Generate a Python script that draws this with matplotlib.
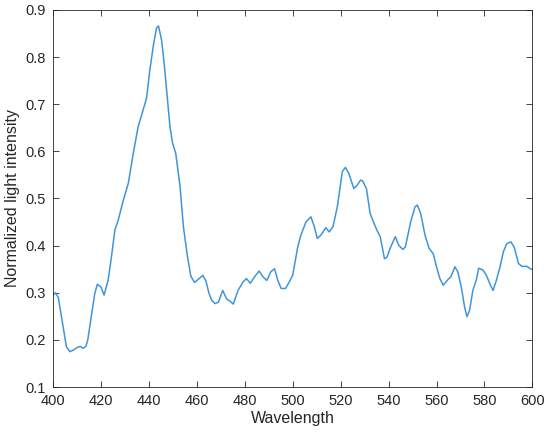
import numpy as np
import matplotlib
matplotlib.use("Agg")
import matplotlib.pyplot as plt

wavelength = [400, 401, 402.2, 403.5, 404.6, 405.6, 407, 408.4, 409.5, 410.5, 411.5, 412.5, 413.7,
              414.5, 415.3, 416.4, 417.4, 418.5, 420, 421.3, 423, 424.4, 425.8, 427.2, 429.3,
              431.4, 433.5, 435.5, 437.6, 439, 440.4, 442, 443.2, 444, 445.3, 446.4, 447.4,
              448.8, 449.9, 451.2, 453, 454.4, 456, 457.5, 459, 460.5, 462.5, 463.8, 465,
              466.2, 467.6, 469, 470.8, 472.4, 473.8, 475.2, 477.2, 479.3, 480.7, 482.3, 484.1,
              486, 487.6, 489.2, 490.8, 492.4, 493.8, 495.2, 497, 498.6, 500, 502.1, 503.4,
              505.5, 507.6, 509, 510.3, 511.7, 513.8, 515.2, 516.8, 518.6, 520.7, 522, 523.4,
              525.5, 526.9, 528.3, 529.2, 530.8, 532.3, 533.7, 535.1, 536.5, 538.3, 539.3,
              540.7, 542.8, 544.2, 545.9, 547, 549.2, 551, 552, 553.4, 555.2, 556.9, 558.6,
              560, 561.4, 562.8, 564.6, 566, 567.7, 568.9, 570.3, 571.7, 572.7, 573.8, 575.2,
              576.6, 577.6, 579.4, 580.8, 582.5, 583.6, 585, 586.5, 587.9, 589.3, 591, 592.4,
              594.2, 595.6, 597.7, 599.1, 600]
intensity = [0.295, 0.300, 0.290, 0.250, 0.215, 0.185, 0.175, 0.178, 0.182, 0.185, 0.186, 0.182, 0.186,
             0.200, 0.227, 0.265, 0.298, 0.318, 0.312, 0.295, 0.327, 0.377, 0.433, 0.454, 0.496,
             0.532, 0.596, 0.652, 0.688, 0.712, 0.773, 0.829, 0.862, 0.866, 0.836, 0.785, 0.730,
             0.652, 0.617, 0.596, 0.525, 0.440, 0.380, 0.335, 0.322, 0.328, 0.337, 0.325, 0.300,
             0.284, 0.277, 0.280, 0.305, 0.287, 0.282, 0.276, 0.305, 0.323, 0.330, 0.320, 0.334,
             0.346, 0.334, 0.326, 0.344, 0.351, 0.326, 0.309, 0.309, 0.323, 0.337, 0.397, 0.422,
             0.450, 0.461, 0.440, 0.415, 0.422, 0.438, 0.429, 0.440, 0.482, 0.557, 0.566, 0.553,
             0.521, 0.528, 0.539, 0.537, 0.520, 0.468, 0.450, 0.433, 0.419, 0.372, 0.375,
             0.395, 0.419, 0.401, 0.392, 0.397, 0.450, 0.482, 0.486, 0.468, 0.422, 0.394, 0.383,
             0.355, 0.330, 0.316, 0.327, 0.334, 0.355, 0.344, 0.313, 0.270, 0.249, 0.263, 0.306,
             0.327, 0.352, 0.348, 0.337, 0.316, 0.305, 0.327, 0.355, 0.387, 0.404, 0.408, 0.397,
             0.362, 0.356, 0.356, 0.351, 0.349]

xticks = [400, 420, 440, 460, 480, 500, 520, 540, 560, 580, 600]
yticks = [0.1, 0.2, 0.3, 0.4, 0.5, 0.6, 0.7, 0.8, 0.9]

plt.rcParams['font.family'] = ['Liberation Sans', 'DejaVu Sans']
fig = plt.figure(figsize=(5.5, 4.38), dpi=100)
ax = fig.add_axes([0.0964, 0.1164, 0.8716, 0.861])

ax.plot(wavelength, intensity, color='#3F95DA', linewidth=1.1)

ax.set_xlim(400, 600)
ax.set_ylim(0.1, 0.9)
ax.set_xticks(xticks)
ax.set_yticks(yticks)
ax.set_yticklabels([f"{v:.1f}" for v in yticks])
ax.tick_params(direction='in', top=True, right=True, length=4, width=0.6,
               colors='#262626', labelsize=10.5, pad=5)
for s in ax.spines.values():
    s.set_color('#262626')
    s.set_linewidth(0.6)

ax.set_xlabel('Wavelength', fontsize=11.5, color='#262626', labelpad=2)
ax.set_ylabel('Normalized light intensity', fontsize=11.5, color='#262626', labelpad=4)

fig.savefig('out.png', dpi=100)
